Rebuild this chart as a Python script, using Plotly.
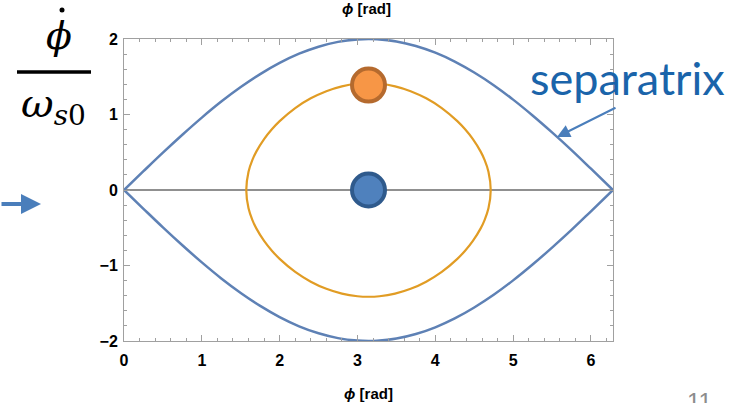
import plotly.graph_objects as go

# ---------------- data ----------------
sep_phi = [0.0, 0.25, 0.5, 0.75, 1.0, 1.25, 1.5, 1.75, 2.0, 2.25, 2.5, 2.75, 3.0, 3.1416,
           3.25, 3.5, 3.75, 4.0, 4.25, 4.5, 4.75, 5.0, 5.25, 5.5, 5.75, 6.0, 6.2832]
sep_upper = [0.0, 0.249, 0.495, 0.732, 0.959, 1.171, 1.363, 1.535, 1.683, 1.805, 1.898, 1.962, 1.995, 2.0,
             1.997, 1.968, 1.908, 1.819, 1.701, 1.556, 1.388, 1.197, 0.987, 0.763, 0.529, 0.282, 0.0]
sep_lower = [0.0, -0.249, -0.495, -0.732, -0.959, -1.171, -1.363, -1.535, -1.683, -1.805, -1.898, -1.962, -1.995, -2.0,
             -1.997, -1.968, -1.908, -1.819, -1.701, -1.556, -1.388, -1.197, -0.987, -0.763, -0.529, -0.282, 0.0]

orbit_phi = [1.571, 1.6, 1.65, 1.7, 1.8, 1.9, 2.0, 2.2, 2.4, 2.6, 2.8, 3.0, 3.1416,
             3.283, 3.483, 3.683, 3.883, 4.083, 4.283, 4.383, 4.483, 4.583, 4.633, 4.683, 4.712,
             4.683, 4.633, 4.583, 4.483, 4.383, 4.283, 4.083, 3.883, 3.683, 3.483, 3.283,
             3.1416, 3.0, 2.8, 2.6, 2.4, 2.2, 2.0, 1.9, 1.8, 1.7, 1.65, 1.6, 1.571]
orbit_y = [0.0, 0.242, 0.398, 0.508, 0.674, 0.804, 0.912, 1.085, 1.214, 1.309, 1.373, 1.407, 1.414,
           1.407, 1.373, 1.309, 1.214, 1.085, 0.912, 0.804, 0.674, 0.508, 0.398, 0.242, 0.0,
           -0.242, -0.398, -0.508, -0.674, -0.804, -0.912, -1.085, -1.214, -1.309, -1.373, -1.407,
           -1.414, -1.407, -1.373, -1.309, -1.214, -1.085, -0.912, -0.804, -0.674, -0.508, -0.398, -0.242, 0.0]

axis_phi = [0.0, 6.2832]
axis_y = [0.0, 0.0]

point_phi = [3.1416, 3.1416]
point_y = [1.39, 0.0]

x_ticks = [0, 1, 2, 3, 4, 5, 6]
y_ticks = [-2, -1, 0, 1, 2]

# ---------------- figure ----------------
SEP_COL = "#5E81B5"
ORB_COL = "#E19C24"

fig = go.Figure()
fig.add_trace(go.Scatter(x=axis_phi, y=axis_y, mode="lines",
                         line=dict(color="#6b6b6b", width=1.5), hoverinfo="skip"))
fig.add_trace(go.Scatter(x=sep_phi, y=sep_upper, mode="lines", line_shape="spline",
                         line=dict(color=SEP_COL, width=2.5)))
fig.add_trace(go.Scatter(x=sep_phi, y=sep_lower, mode="lines", line_shape="spline",
                         line=dict(color=SEP_COL, width=2.5)))
fig.add_trace(go.Scatter(x=orbit_phi, y=orbit_y, mode="lines", line_shape="spline",
                         line=dict(color=ORB_COL, width=2.2, smoothing=0.6)))
fig.add_trace(go.Scatter(x=[point_phi[0]], y=[point_y[0]], mode="markers", cliponaxis=False,
                         marker=dict(size=33, color="#F79646", line=dict(color="#B56A2E", width=4))))
fig.add_trace(go.Scatter(x=[point_phi[1]], y=[point_y[1]], mode="markers", cliponaxis=False,
                         marker=dict(size=33, color="#4F81BD", line=dict(color="#2F5A8C", width=4))))

W, H = 742, 403
L, R, T, B = 124, 129, 39, 62
PW, PH = W - L - R, H - T - B


def px(x):
    return (x - L) / PW


def py(y):
    return (H - B - y) / PH


axis_common = dict(showgrid=False, zeroline=False, showline=True, linecolor="#a0a0a0",
                   linewidth=1, mirror="allticks", ticks="inside", ticklen=6,
                   tickcolor="#a0a0a0", tickwidth=1,
                   tickfont=dict(family="Liberation Sans", size=16, color="black", weight="bold"))

fig.update_xaxes(range=[0, 6.2832], tickvals=x_ticks, ticktext=[str(v) for v in x_ticks],
                 minor=dict(ticks="inside", ticklen=3, dtick=0.2, tick0=0, tickcolor="#a0a0a0"),
                 ticklabelstandoff=5, **axis_common)
fig.update_yaxes(range=[-2, 2], tickvals=y_ticks,
                 ticktext=["\u22122", "\u22121", "0", "1", "2"],
                 minor=dict(ticks="inside", ticklen=3, dtick=0.2, tick0=0, tickcolor="#a0a0a0"),
                 ticklabelstandoff=2, **axis_common)

annotations = [
    # axis titles (top, partially cut, and bottom)
    dict(x=px(366), y=py(8), text="<i>ϕ</i> [rad]", showarrow=False,
         font=dict(family="Liberation Sans", size=15, color="black", weight="bold")),
    dict(x=px(368), y=py(394), text="<i>ϕ</i> [rad]", showarrow=False,
         font=dict(family="Liberation Sans", size=15, color="black", weight="bold")),
    # fraction label
    dict(x=px(59), y=py(36), text="<i>ϕ</i>", showarrow=False,
         font=dict(family="DejaVu Serif", size=38, color="black")),
    dict(x=px(53), y=py(106), text="<i>ω</i><sub><i>s</i>0</sub>", showarrow=False,
         font=dict(family="DejaVu Serif", size=40, color="black")),
    # separatrix label
    dict(x=px(627), y=py(78), text="separatrix", showarrow=False,
         font=dict(family="Lato", size=45, color="#1A64AA")),
    # separatrix arrow
    dict(x=px(557), y=py(137), text="", showarrow=True, axref="pixel", ayref="pixel",
         ax=60, ay=-30, arrowhead=2, arrowsize=1.3, arrowwidth=2, arrowcolor="#4A7EBB"),
    # left arrow
    dict(x=px(41), y=py(204), text="", showarrow=True, axref="pixel", ayref="pixel",
         ax=-45, ay=0, arrowhead=2, arrowsize=1.0, arrowwidth=4, arrowcolor="#4A7EBB"),
    # page number
    dict(x=px(699), y=py(386), text="11", showarrow=False, yanchor="top",
         font=dict(family="Liberation Sans", size=24, color="#8c8c8c")),
]
for a in annotations:
    a.setdefault("xref", "paper")
    a.setdefault("yref", "paper")
    a.setdefault("xanchor", "center")
    a.setdefault("yanchor", "middle")

shapes = [
    # fraction bar
    dict(type="line", xref="paper", yref="paper", x0=px(17), x1=px(91), y0=py(72), y1=py(72),
         line=dict(color="black", width=3.5)),
    # dot over phi
    dict(type="circle", xref="paper", yref="paper", x0=px(59.5), x1=px(64.5), y0=py(12.5), y1=py(7.5),
         fillcolor="black", line=dict(width=0)),
]

fig.update_layout(width=W, height=H, margin=dict(l=L, r=R, t=T, b=B),
                  paper_bgcolor="white", plot_bgcolor="white", showlegend=False,
                  annotations=annotations, shapes=shapes)

fig.write_html("out.html")
